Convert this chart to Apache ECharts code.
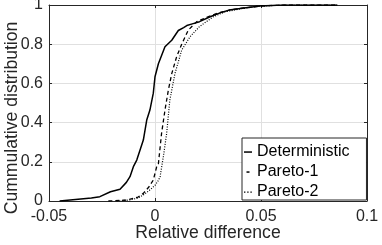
<!DOCTYPE html>
<html><head><meta charset="utf-8">
<script src="https://cdn.jsdelivr.net/npm/echarts@6/dist/echarts.min.js"></script>
<style>html,body{margin:0;padding:0;background:#fff}#c{width:382px;height:245px}</style>
</head><body><div id="c"></div>
<script>
const xTicks = [-0.05, 0, 0.05, 0.1];
const yTicks = [0, 0.2, 0.4, 0.6, 0.8, 1];
const seriesNames = ['Deterministic', 'Pareto-1', 'Pareto-2'];
const detX = [-0.045, -0.04, -0.035, -0.03, -0.026, -0.021, -0.0165, -0.0135, -0.0118, -0.0102, -0.0086, -0.0055, -0.0039, -0.0024, -0.0008, 0, 0.0016, 0.0047, 0.0079, 0.011, 0.0135, 0.015, 0.018, 0.021, 0.026, 0.0307, 0.035, 0.042, 0.0495, 0.06, 0.086];
const detY = [0, 0.005, 0.01, 0.015, 0.022, 0.047, 0.06, 0.095, 0.124, 0.175, 0.209, 0.311, 0.413, 0.464, 0.55, 0.634, 0.70, 0.787, 0.82, 0.87, 0.885, 0.895, 0.905, 0.915, 0.94, 0.96, 0.974, 0.985, 0.995, 1, 1];
const p1X = [-0.022, -0.0134, -0.008, -0.0055, -0.003, -0.0008, 0.0008, 0.0016, 0.0031, 0.0047, 0.0063, 0.0079, 0.0102, 0.0126, 0.0157, 0.0197, 0.025, 0.03, 0.035, 0.042, 0.05, 0.06, 0.086];
const p1Y = [0, 0.005, 0.02, 0.039, 0.07, 0.107, 0.175, 0.19, 0.345, 0.464, 0.566, 0.65, 0.736, 0.80, 0.872, 0.915, 0.94, 0.96, 0.974, 0.985, 0.995, 1, 1];
const p2X = [-0.018, -0.012, -0.008, -0.005, -0.002, 0, 0.0016, 0.0024, 0.004, 0.0055, 0.007, 0.0094, 0.0126, 0.0165, 0.021, 0.0275, 0.033, 0.04, 0.048, 0.06, 0.086];
const p2Y = [0, 0.005, 0.015, 0.035, 0.06, 0.08, 0.105, 0.124, 0.23, 0.345, 0.515, 0.65, 0.77, 0.838, 0.89, 0.94, 0.965, 0.98, 0.993, 1, 1];

function pairs(xs, ys){ return xs.map((x,i)=>[x, ys[i]]); }
const FONT = 'Liberation Sans, Arial, sans-serif';
const axisColor = '#262626';
// legend glyphs: bounding box 8x16 (corner anchors), mark drawn near middle
const box = 'M0,0L0,0M8,16L8,16';
const legendIcons = [
  'path://' + box + 'M0,7.3L8,7.3L8,8.8L0,8.8Z',
  'path://' + box + 'M2.5,7.3L5.5,7.3L5.5,8.8L2.5,8.8Z',
  'path://' + box + 'M0,7.5L1.4,7.5L1.4,8.8L0,8.8ZM3.2,7.5L4.6,7.5L4.6,8.8L3.2,8.8ZM6.4,7.5L7.8,7.5L7.8,8.8L6.4,8.8Z'
];
const chart = echarts.init(document.getElementById('c'));
const common = () => ({
  nameMoveOverlap: false,
  axisLine: {show: true, onZero: false, lineStyle: {color: axisColor, width: 1}},
  axisTick: {show: true, inside: true, length: 3, lineStyle: {color: axisColor}},
});
chart.setOption({
  animation: false,
  backgroundColor: '#fff',
  grid: {left: 49, right: 15, top: 5, bottom: 44, containLabel: false, outerBoundsMode: 'none'},
  legend: {
    orient: 'vertical', left: 242, top: 138,
    padding: [6, 17, 0, 2], itemGap: 4, itemWidth: 8, itemHeight: 16,
    backgroundColor: '#fff', borderColor: axisColor, borderWidth: 1, borderRadius: 0,
    itemStyle: {color: '#000', borderWidth: 0},
    lineStyle: {width: 0},
    textStyle: {fontFamily: FONT, fontSize: 16, color: '#000'},
    data: seriesNames.map((n, i) => ({name: n, icon: legendIcons[i]}))
  },
  xAxis: [
    Object.assign({type: 'value', min: -0.05, max: 0.1, interval: 0.05, position: 'bottom',
      name: 'Relative difference', nameLocation: 'middle', nameGap: 23,
      nameTextStyle: {fontFamily: FONT, fontSize: 17.6, color: '#262626'},
      axisLabel: {fontFamily: FONT, fontSize: 16, color: '#262626', margin: 8,
        formatter: v => String(+v.toFixed(2))},
      splitLine: {show: true, lineStyle: {color: '#e0e0e0', width: 1}}
    }, common()),
    Object.assign({type: 'value', min: -0.05, max: 0.1, interval: 0.05, position: 'top',
      axisLabel: {show: false}, splitLine: {show: false}}, common())
  ],
  yAxis: [
    Object.assign({type: 'value', min: 0, max: 1, interval: 0.2, position: 'left',
      name: 'Cummulative distribution', nameLocation: 'middle', nameGap: 28,
      nameTextStyle: {fontFamily: FONT, fontSize: 17.6, color: '#262626', padding: [0, 30, 0, 0]},
      axisLabel: {fontFamily: FONT, fontSize: 16, color: '#262626', margin: 6,
        formatter: v => String(+v.toFixed(1))},
      splitLine: {show: true, lineStyle: {color: '#e0e0e0', width: 1}}
    }, common()),
    Object.assign({type: 'value', min: 0, max: 1, interval: 0.2, position: 'right',
      axisLabel: {show: false}, splitLine: {show: false}}, common())
  ],
  series: [
    {name: seriesNames[0], type: 'line', showSymbol: false, symbol: 'none',
      data: pairs(detX, detY), lineStyle: {color: '#000', width: 1.5, type: 'solid'}, itemStyle: {color: '#000'}, z: 3},
    {name: seriesNames[1], type: 'line', showSymbol: false, symbol: 'none',
      data: pairs(p1X, p1Y), lineStyle: {color: '#000', width: 1.3, type: [4, 3]}, itemStyle: {color: '#000'}, z: 2},
    {name: seriesNames[2], type: 'line', showSymbol: false, symbol: 'none',
      data: pairs(p2X, p2Y), lineStyle: {color: '#000', width: 1.2, type: [1, 1.5]}, itemStyle: {color: '#000'}, z: 2}
  ]
});
</script></body></html>
